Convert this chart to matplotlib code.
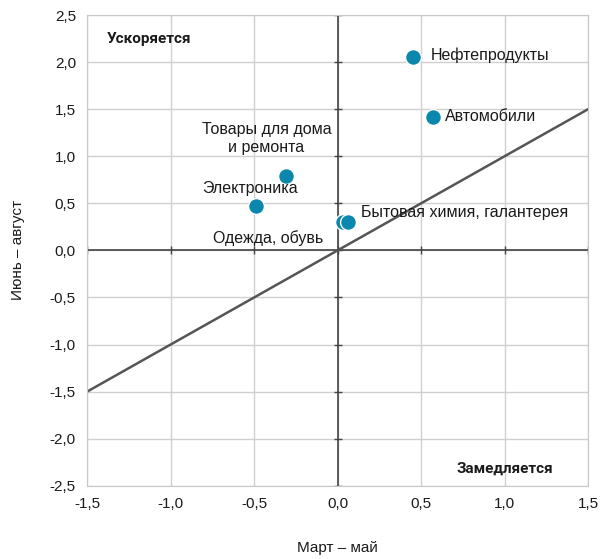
import matplotlib.pyplot as plt
import numpy as np

plt.rcParams['font.family'] = ['Liberation Sans', 'DejaVu Sans']

labels = ['Нефтепродукты', 'Автомобили', 'Товары для дома\nи ремонта', 'Электроника',
          'Одежда, обувь', 'Бытовая химия, галантерея']
x_vals = [0.45, 0.57, -0.31, -0.49, 0.03, 0.06]
y_vals = [2.06, 1.42, 0.79, 0.47, 0.30, 0.30]
# label placement: offset in points and alignment
label_pos = [(13, 1, 'left', 'center'), (9, 0, 'left', 'center'),
             (-14, 15, 'center', 'bottom'), (-4, 7, 'center', 'bottom'),
             (-14, -6, 'right', 'top'), (10, 7, 'left', 'center')]

xticks = np.arange(-1.5, 1.51, 0.5)
yticks = np.arange(-2.5, 2.51, 0.5)

fig = plt.figure(figsize=(6.09, 5.59), dpi=100)
ax = fig.add_axes([0.143, 0.131, 0.8225, 0.842])

ax.set_xlim(-1.5, 1.5)
ax.set_ylim(-2.5, 2.5)
ax.set_xticks(xticks)
ax.set_yticks(yticks)
fmt = lambda v: f'{v:.1f}'.replace('.', ',').replace('-0,0', '0,0')
ax.set_xticklabels([fmt(v) for v in xticks], fontsize=11)
ax.set_yticklabels([fmt(v) for v in yticks], fontsize=11)
ax.tick_params(length=0, pad=8, colors='#1a1a1a')
ax.grid(True, color='#d0d0d0', linewidth=1)
for s in ax.spines.values():
    s.set_color('#c8c8c8')
ax.set_axisbelow(True)

# central axes with small ticks
ax.axhline(0, color='#444444', linewidth=1.2, zorder=1)
ax.axvline(0, color='#444444', linewidth=1.2, zorder=1)
ax.plot(xticks, np.zeros_like(xticks), linestyle='none', marker='|', markersize=6,
        color='#444444', zorder=1)
ax.plot(np.zeros_like(yticks), yticks, linestyle='none', marker='_', markersize=6,
        color='#444444', zorder=1)

# diagonal y = x
ax.plot([-1.5, 1.5], [-1.5, 1.5], color='#555555', linewidth=1.8, zorder=2)

ax.scatter(x_vals, y_vals, s=130, color='#0b87ad', edgecolors='white', linewidths=1, zorder=3)
for lbl, xv, yv, (dx, dy, ha, va) in zip(labels, x_vals, y_vals, label_pos):
    ax.annotate(lbl, (xv, yv), xytext=(dx, dy), textcoords='offset points',
                ha=ha, va=va, fontsize=11.5, color='#1a1a1a', linespacing=1.25)

ax.text(-1.38, 2.25, 'Ускоряется', fontsize=11, fontweight='bold', family='Roboto',
        color='#1a1a1a', ha='left', va='center')
ax.text(1.29, -2.32, 'Замедляется', fontsize=11, fontweight='bold', family='Roboto',
        color='#1a1a1a', ha='right', va='center')

ax.set_xlabel('Март – май', fontsize=11, labelpad=22, color='#1a1a1a')
ax.set_ylabel('Июнь – август', fontsize=11, labelpad=18, color='#1a1a1a')

fig.savefig('out.png', dpi=100)
